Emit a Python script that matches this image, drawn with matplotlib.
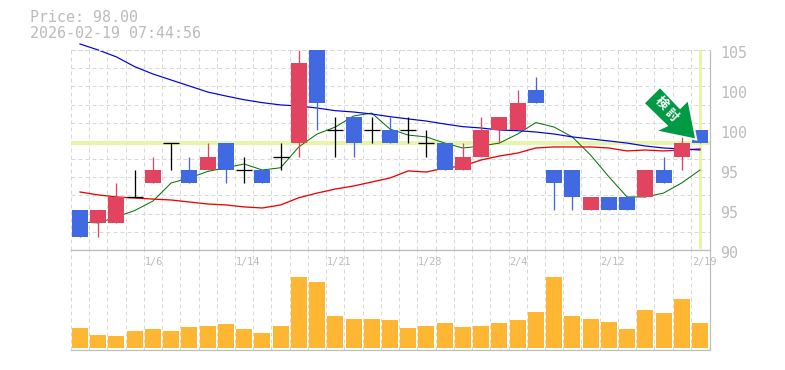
import matplotlib
matplotlib.use('Agg')
from matplotlib import pyplot as plt
from matplotlib.patches import Polygon
from matplotlib.transforms import IdentityTransform

# ローソク足
opens = [93, 92, 92, 94, 95, 98, 96, 96, 98, 96, 96, 97, 98, 105, 99, 100, 99, 99, 99, 98,
         98, 96, 97, 99, 99, 102, 96, 96, 93, 94, 94, 94, 96, 97, 99]
closes = [91, 93, 94, 94, 96, 98, 95, 97, 96, 96, 95, 97, 104, 101, 99, 98, 99, 98, 99, 98,
          96, 97, 99, 100, 101, 101, 95, 94, 94, 93, 93, 96, 95, 98, 98]
highs = [93, 93, 95, 96, 97, 98, 97, 98, 98, 97, 96, 98, 105, 105, 100, 100, 100, 100, 100, 99,
         98, 98, 100, 100, 102, 103, 96, 96, 94, 94, 94, 96, 97, 99, 99]
lows = [91, 91, 92, 94, 95, 96, 95, 96, 95, 95, 95, 96, 97, 99, 97, 97, 98, 98, 98, 97,
        96, 96, 97, 98, 99, 101, 93, 93, 93, 93, 93, 94, 95, 96, 98]
volumes = [60, 39, 36, 51, 57, 51, 63, 66, 72, 57, 45, 66, 213, 198, 96, 87, 87, 84,
           60, 66, 75, 63, 66, 75, 84, 108, 213, 96, 87, 78, 57, 114, 105, 147, 75]

# 移動平均
ma_short = [92.1, 92.03, 92.48, 92.96, 93.67, 95.03, 95.4, 95.89, 96.17, 96.45, 96.0, 96.17,
            97.73, 98.7, 99.22, 100.05, 100.27, 99.07, 98.62, 98.48, 98.02, 97.65, 97.8, 98.02,
            98.7, 99.56, 99.22, 98.48, 97.12, 95.5, 93.98, 93.98, 94.27, 95.03, 96.0]
ma_mid = [94.35, 94.13, 93.98, 93.9, 93.82, 93.75, 93.6, 93.45, 93.38, 93.23, 93.15, 93.38,
          93.92, 94.27, 94.57, 94.8, 95.1, 95.4, 95.93, 95.85, 96.15, 96.3, 96.75, 97.05,
          97.27, 97.65, 97.73, 97.73, 97.73, 97.65, 97.43, 97.5, 97.43, 97.5, 97.58]
ma_long = [105.45, 105.0, 104.48, 103.75, 103.2, 102.75, 102.3, 101.85, 101.55, 101.27, 101.05,
           100.88, 100.8, 100.65, 100.45, 100.35, 100.2, 100.0, 99.83, 99.67, 99.45, 99.25,
           99.15, 99.0, 98.95, 98.85, 98.7, 98.48, 98.33, 98.18, 98.02, 97.8, 97.65, 97.58, 97.5]

price_now = 98
price_ticks = [90, 93, 96, 99, 102, 105]
price_tick_labels = ['90', '95', '95', '100', '100', '105']
date_pos = [4, 9, 14, 19, 24, 29, 34]
date_labels = ['1/6', '1/14', '1/21', '1/28', '2/4', '2/12', '2/19']

RED = '#e2445f'
BLUE = '#4169e1'
GRAY = '#bbbbbb'
GRID = '#d8d8d8'
LIME = '#e6f5a8'
DASH = (0, (4, 3))
px = 0.72

fig = plt.figure(figsize=(7.85, 3.7), dpi=100)
left = 70.7 / 785
width = (710 - 70.7) / 785
ax = fig.add_axes([left, 120 / 370, width, 200 / 370])
ax2 = fig.add_axes([left, 20 / 370, width, 100 / 370])

n = len(closes)
xs = list(range(n))
for a in (ax, ax2):
    a.set_xlim(-0.51, 34.55)
    a.set_xticks([i - 0.5 for i in xs])
    a.tick_params(length=0, labelbottom=False, labelleft=False)
    a.set_axisbelow(True)
    a.grid(axis='x', color=GRID, lw=1 * px, ls=DASH)
    for s in ('left', 'top'):
        a.spines[s].set_visible(False)
    for s in ('right', 'bottom'):
        a.spines[s].set_color(GRAY)
        a.spines[s].set_linewidth(1.2 * px)

ax.set_ylim(90, 105)
ax.set_yticks([90 + 15 * i / 11 for i in range(12)])
ax.grid(axis='y', color=GRID, lw=1 * px, ls=DASH)
ax.spines['top'].set_visible(True)
ax.spines['top'].set_color(GRID)
ax.spines['top'].set_linestyle(DASH)
ax.spines['top'].set_linewidth(1 * px)

# 現在値のライン
ax.axhline(price_now, color=LIME, lw=4 * px, zorder=1.5)
ax.plot([n - 1, n - 1], [90.2, 105], color=LIME, lw=3 * px, zorder=1.5)

# 移動平均はローソクの下
ax.plot(xs, ma_short, color='#007000', lw=1 * px, zorder=1.8)
ax.plot(xs, ma_mid, color='#f00000', lw=1.3 * px, zorder=1.8)
ax.plot(xs, ma_long, color='#0000e6', lw=1.2 * px, zorder=1.8, clip_on=False)

for i in xs:
    o, c, h, l = opens[i], closes[i], highs[i], lows[i]
    if c > o:
        col = RED
    elif c < o:
        col = BLUE
    else:
        col = 'black'
    ax.plot([i, i], [l, h], color=col, lw=1.3 * px, zorder=2, solid_capstyle='butt')
    if c == o:
        ax.plot([i - 0.44, i + 0.44], [c, c], color=col, lw=1.3 * px, zorder=2, solid_capstyle='butt')
    else:
        ax.bar(i, abs(c - o), bottom=min(o, c), width=16 / 18.235, color=col, zorder=3)

for v, t in zip(price_ticks, price_tick_labels):
    ax.annotate(t, (1, v), xycoords=ax.get_yaxis_transform(), xytext=(7.2, -2.16),
                textcoords='offset points', color=GRAY, fontsize=10.8,
                family='DejaVu Sans Mono', va='center', ha='left', annotation_clip=False)

ax2.bar(xs, volumes, width=16 / 18.235, color='#ffb733', zorder=3)
ax2.set_ylim(-6, 294)
ax2.spines['top'].set_visible(True)
ax2.spines['top'].set_color(GRAY)
ax2.spines['top'].set_linewidth(1.2 * px)
for i, t in zip(date_pos, date_labels):
    ax2.text(i - 0.45, 0.885, t, transform=ax2.get_xaxis_transform(), color=GRAY, fontsize=7.3,
             family='DejaVu Sans Mono', ha='left', va='center', zorder=5, clip_on=False)

fig.text(30 / 785, 1 - 18 / 370, 'Price: 98.00', color=GRAY, fontsize=10.8,
         family='DejaVu Sans Mono', va='center')
fig.text(30 / 785, 1 - 33 / 370, '2026-02-19 07:44:56', color=GRAY, fontsize=10.8,
         family='DejaVu Sans Mono', va='center')

# 矢印
arrow = [(660, 88.3), (645, 103.3), (668.3, 126), (658.3, 130.7), (695, 138.3), (687.7, 101.7), (680, 109.3)]
arrow_xy = [(x, 370 - y) for x, y in arrow]
fig.add_artist(Polygon(arrow_xy, closed=True, facecolor='white', edgecolor='white', lw=4 * px,
                       transform=IdentityTransform(), zorder=10))
fig.add_artist(Polygon(arrow_xy, closed=True, facecolor='#009944', edgecolor='none',
                       transform=IdentityTransform(), zorder=10.5))
for ch, cx, cy in zip('検討', [661, 671], [103, 115]):
    fig.text(cx / 785, 1 - cy / 370, ch, color='white', fontsize=9, fontweight='bold',
             family=['Noto Sans CJK JP', 'DejaVu Sans'], rotation=-45, rotation_mode='anchor',
             ha='center', va='center', zorder=11)

fig.savefig('out.png', dpi=100)
